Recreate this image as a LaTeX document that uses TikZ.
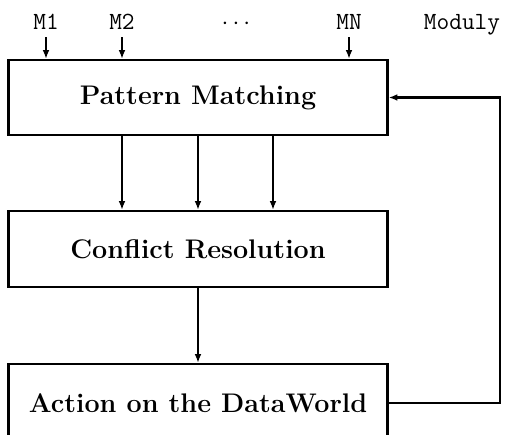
\documentclass[tikz,border=0pt]{standalone}
\usetikzlibrary{arrows.meta}
\begin{document}
\begin{tikzpicture}[x=0.446pt,y=-0.446pt,
  box/.style={draw,line width=1.1pt,inner sep=0pt,minimum width=379*0.446pt,font=\large\bfseries},
  lbl/.style={inner sep=0pt,anchor=base,font=\fontsize{11}{13}\selectfont\ttfamily},
  arr/.style={line width=1pt,-{Latex[length=3.8pt,width=3pt]}},
  ln/.style={line width=1pt}]
\useasboundingbox (0,0) rectangle (505,435);
\clip (0,0) rectangle (505,435);
\node[box,minimum height=75*0.446pt] (b1) at (198,97.5) {Pattern Matching};
\node[box,minimum height=76*0.446pt] (b2) at (198,249) {Conflict Resolution};
\node[box,minimum height=78*0.446pt] (b3) at (198,403) {Action on the DataWorld};
\node[lbl] (m1) at (46,30) {M1};
\node[lbl] (m2) at (122,30) {M2};
\node[inner sep=0pt,font=\fontsize{11}{13}\selectfont] (dots) at (236,24) {$\cdots$};
\node[lbl] (mn) at (349,30) {MN};
\node[lbl] (mod) at (462,30) {Moduly};
\draw[arr,shorten <=3pt] (m1.south) -- (m1.south |- b1.north);
\draw[arr,shorten <=3pt] (m2.south) -- (m2.south |- b1.north);
\draw[arr,shorten <=3pt] (mn.south) -- (mn.south |- b1.north);
\coordinate (c1) at (122,0);
\coordinate (c2) at (198,0);
\coordinate (c3) at (273,0);
\draw[arr] (c1 |- b1.south) -- (c1 |- b2.north);
\draw[arr] (c2 |- b1.south) -- (c2 |- b2.north);
\draw[arr] (c3 |- b1.south) -- (c3 |- b2.north);
\draw[arr] (b2.south) -- (b3.north);
\coordinate (fb) at (500,0);
\draw[arr,line join=miter] (b3.east) -- (fb |- b3.east) -- (fb |- b1.east) -- (b1.east);
\end{tikzpicture}
\end{document}
